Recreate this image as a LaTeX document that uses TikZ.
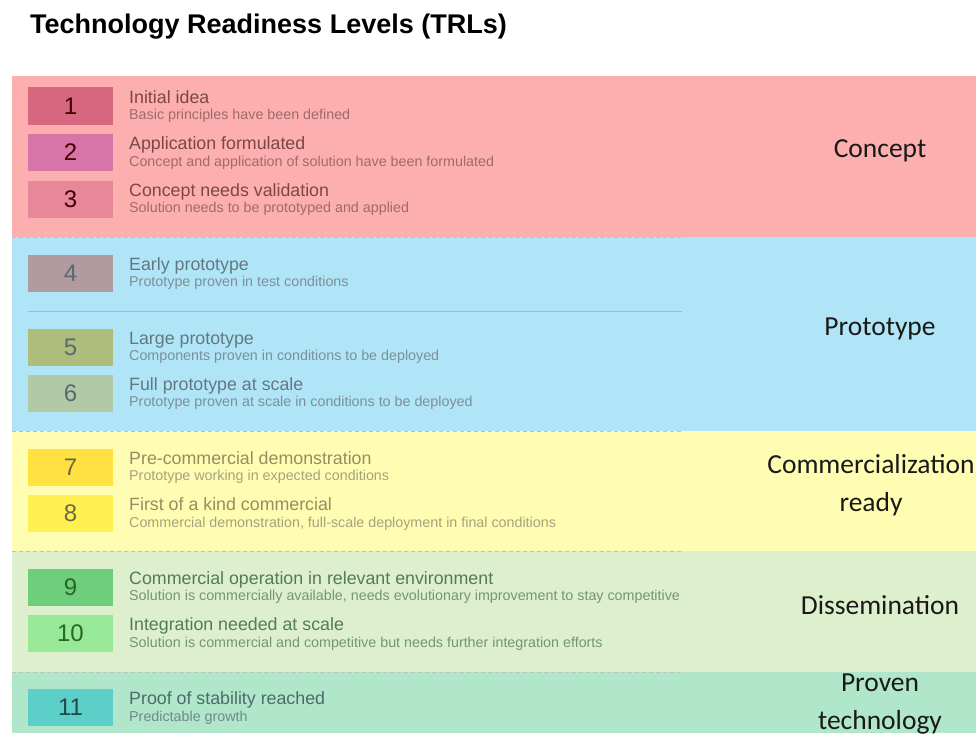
\documentclass[tikz,border=0pt]{standalone}
\usepackage{fontspec}
\setmainfont{Liberation Sans}
\newfontfamily\rowfont{Liberation Sans}
\newfontfamily\phasefont{Carlito}
\definecolor{cConcept}{HTML}{FDAFAF}
\definecolor{cProto}{HTML}{B0E5F7}
\definecolor{cComm}{HTML}{FEFDB1}
\definecolor{cDiss}{HTML}{DEEFCD}
\definecolor{cProven}{HTML}{B0E6C9}
\definecolor{cOne}{HTML}{D7677F}
\definecolor{cTwo}{HTML}{D774A8}
\definecolor{cThree}{HTML}{E8879A}
\definecolor{cFour}{HTML}{B19BA0}
\definecolor{cFive}{HTML}{AEBD7B}
\definecolor{cSix}{HTML}{B2C9A5}
\definecolor{cSeven}{HTML}{FFE142}
\definecolor{cEight}{HTML}{FFF052}
\definecolor{cNine}{HTML}{6DCF7B}
\definecolor{cTen}{HTML}{97E897}
\definecolor{cEleven}{HTML}{5BCFC8}
\colorlet{numc}{black}
\colorlet{ttlc}{black}
\colorlet{subc}{black}
% one row: id, centre y, number, box fill, title, subtitle
\newcommand\trlrow[6]{%
  \node[numbox, fill=#4] (n#1) at (70.5,#2) {#3};
  \node[ttl] (t#1) at (129,#2-3) {#5};
  \node[sub] (s#1) at (129,#2+13.5) {#6};}
\begin{document}
\begin{tikzpicture}[x=1pt,y=-1pt,
  dashsep/.style={draw=black!25, line width=0.8pt, dash pattern=on 4pt off 3pt},
  numbox/.style={rectangle, minimum width=85pt, minimum height=37pt, inner sep=0pt,
    text=numc, font=\rowfont\fontsize{24}{24}\selectfont},
  ttl/.style={anchor=base west, inner sep=0pt, text=ttlc, font=\rowfont\fontsize{17.8}{19}\selectfont},
  sub/.style={anchor=base west, inner sep=0pt, text=subc, font=\rowfont\fontsize{14.3}{15}\selectfont},
  phase/.style={align=center, text=black!90, font=\phasefont\fontsize{27.5}{38}\selectfont, inner sep=0pt}]
\useasboundingbox (0,0) rectangle (976,733);
\fill[white] (0,0) rectangle (976,733);

% title
\node[anchor=base west, inner sep=0pt, font=\bfseries\fontsize{27}{30}\selectfont] (title) at (30,34)
  {Technology Readiness Levels (TRLs)};

% phase bands
\fill[cConcept] (12,76) rectangle (976,237);
\fill[cProto]   (12,237) rectangle (976,431);
\fill[cComm]    (12,431) rectangle (976,551);
\fill[cDiss]    (12,551) rectangle (976,672);
\fill[cProven]  (12,672) rectangle (976,733);

% separators
\draw[dashsep] (12,237) -- (682,237);
\draw[dashsep] (12,431) -- (682,431);
\draw[dashsep] (12,551) -- (682,551);
\draw[dashsep] (12,672) -- (682,672);
\draw[draw=cProto!80!black!90, line width=0.8pt] (28,311) -- (682,311);

% concept
\colorlet{numc}{black!55!red!60!black}
\colorlet{ttlc}{red!30!black!72}
\colorlet{subc}{red!35!black!58}
\trlrow{1}{106}{1}{cOne}{Initial idea}{Basic principles have been defined}
\trlrow{2}{152.5}{2}{cTwo}{Application formulated}{Concept and application of solution have been formulated}
\trlrow{3}{199}{3}{cThree}{Concept needs validation}{Solution needs to be prototyped and applied}

% prototype
\colorlet{numc}{cyan!30!black!88}
\colorlet{ttlc}{cyan!30!black!80}
\colorlet{subc}{cyan!30!black!65}
\trlrow{4}{273}{4}{cFour}{Early prototype}{Prototype proven in test conditions}
\trlrow{5}{347}{5}{cFive}{Large prototype}{Components proven in conditions to be deployed}
\trlrow{6}{393}{6}{cSix}{Full prototype at scale}{Prototype proven at scale in conditions to be deployed}

% commercialization
\colorlet{numc}{olive!45!black!85}
\colorlet{ttlc}{olive!50!black!65}
\colorlet{subc}{olive!45!black!52}
\trlrow{7}{467}{7}{cSeven}{Pre-commercial demonstration}{Prototype working in expected conditions}
\trlrow{8}{513.5}{8}{cEight}{First of a kind commercial}{Commercial demonstration, full-scale deployment in final conditions}

% dissemination
\colorlet{numc}{green!30!black!85}
\colorlet{ttlc}{green!25!black!68}
\colorlet{subc}{green!25!black!55}
\trlrow{9}{587}{9}{cNine}{Commercial operation in relevant environment}{Solution is commercially available, needs evolutionary improvement to stay competitive}
\trlrow{10}{633.5}{10}{cTen}{Integration needed at scale}{Solution is commercial and competitive but needs further integration efforts}

% proven
\colorlet{numc}{teal!40!black!88}
\colorlet{ttlc}{teal!35!black!70}
\colorlet{subc}{teal!35!black!56}
\trlrow{11}{707.5}{11}{cEleven}{Proof of stability reached}{Predictable growth}

% phase labels
\node[phase] (pConcept) at (880,151) {Concept};
\node[phase] (pProto) at (880,329) {Prototype};
\node[phase] (pComm) at (871,485) {Commercialization\\ready};
\node[phase] (pDiss) at (880,605) {Dissemination};
\node[phase] (pProven) at (880,704) {Proven\\technology};
\end{tikzpicture}
\end{document}
